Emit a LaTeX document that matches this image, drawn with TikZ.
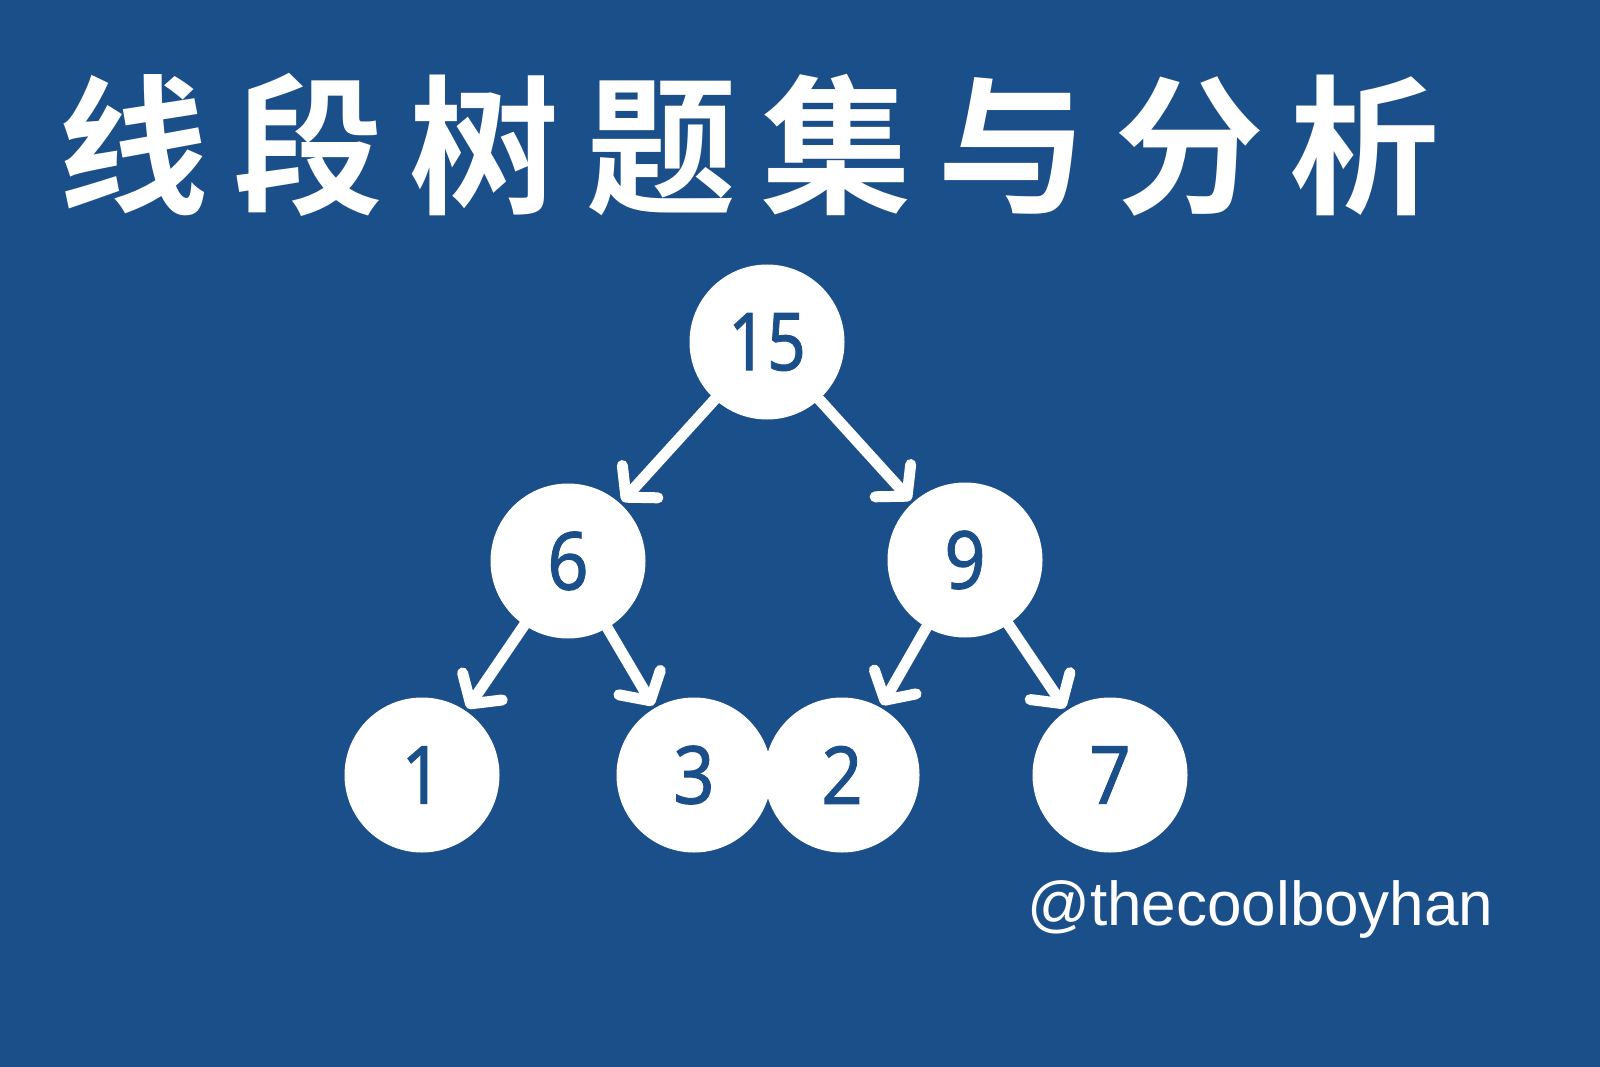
\documentclass[tikz,border=0pt]{standalone}
\usepackage{fontspec}
\setmainfont{Liberation Sans}
\newfontfamily\cjkbold{Noto Sans CJK SC}[BoldFont=* Bold]
\newfontfamily\digitfont{Noto Sans}[FakeBold=1.2]
\usetikzlibrary{arrows.meta}
\definecolor{bgblue}{RGB}{26,79,138}
\tikzset{
  treenode/.style={circle, fill=white, draw=none, minimum size=155pt, inner sep=0pt,
    text=bgblue, font=\digitfont\fontsize{80}{80}\selectfont},
  treeedge/.style={draw=white, line width=11pt, line cap=round,
    -{Straight Barb[length=21pt, width=48pt, line width=11pt, line cap=round, line join=round]},
    shorten >=3pt},
}
\newcommand{\cgap}{\hspace{26pt}}
\begin{document}
\begin{tikzpicture}[x=1pt, y=-1pt]
  \fill[bgblue] (0,0) rectangle (1600,1067);
  \useasboundingbox (0,0) rectangle (1600,1067);
  \node[text=white, inner sep=0pt, font=\cjkbold\bfseries\fontsize{150}{150}\selectfont] (title) at (749,145)
    {线\cgap 段\cgap 树\cgap 题\cgap 集\cgap 与\cgap 分\cgap 析};
  \node[treenode] (n15) at (767,342) {\scalebox{0.85}[1]{15}};
  \node[treenode] (n6) at (568,561) {\scalebox{0.9}[1]{6}};
  \node[treenode] (n9) at (965,560) {\scalebox{0.9}[1]{9}};
  \node[treenode] (n1) at (422,775) {\scalebox{0.9}[1]{1}};
  \node[treenode] (n3) at (694,775) {\scalebox{0.9}[1]{3}};
  \node[treenode] (n2) at (842,775) {\scalebox{0.9}[1]{2}};
  \node[treenode] (n7) at (1110,775) {\scalebox{0.9}[1]{7}};
  \draw[treeedge] (n15) -- (n6);
  \draw[treeedge] (n15) -- (n9);
  \draw[treeedge] (n6) -- (n1);
  \draw[treeedge] (n6) -- (n3);
  \draw[treeedge] (n9) -- (n2);
  \draw[treeedge] (n9) -- (n7);
  \node[text=white, inner sep=0pt, anchor=base west, font=\fontsize{62}{62}\selectfont] (handle) at (1027,925) {@thecoolboyhan};
\end{tikzpicture}
\end{document}
